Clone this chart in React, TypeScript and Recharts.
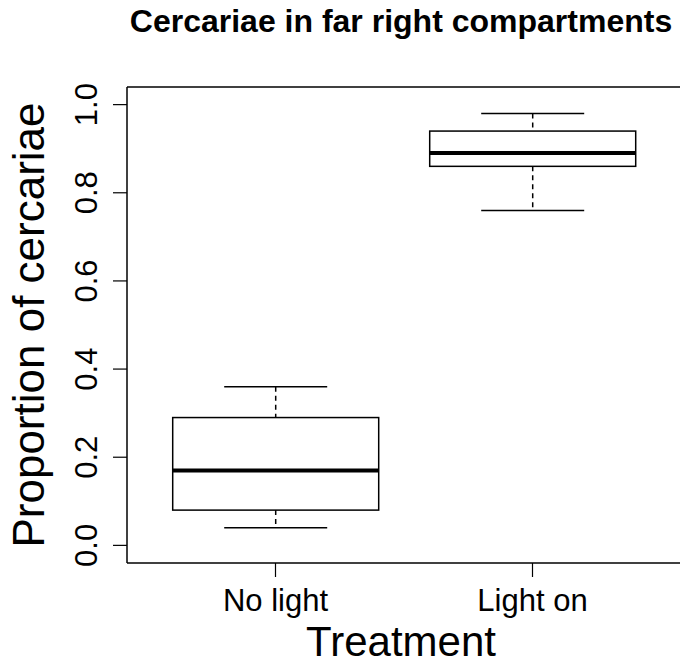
import React from 'react';
import { ComposedChart, Bar, XAxis, YAxis, CartesianGrid } from 'recharts';

const treatments = ['No light', 'Light on'];
const mins = [0.04, 0.76];
const q1s = [0.08, 0.86];
const medians = [0.17, 0.89];
const q3s = [0.29, 0.94];
const maxs = [0.36, 0.98];
const yTicks = [0, 0.2, 0.4, 0.6, 0.8, 1.0];

const FONT = '"Liberation Sans", Arial, Helvetica, sans-serif';

const data = treatments.map((t, i) => ({
  name: t,
  range: [mins[i], maxs[i]],
  min: mins[i],
  q1: q1s[i],
  median: medians[i],
  q3: q3s[i],
  max: maxs[i],
}));

// box drawn from the floating bar [min, max]; inner values mapped on the same linear scale
const BoxShape = (props: any) => {
  const { x, y, width, height, payload } = props;
  const lo = payload.min;
  const hi = payload.max;
  const px = (v: number) => y + (height * (hi - v)) / (hi - lo);
  const cx = x + width / 2;
  const cap = width / 4;
  return (
    <g>
      <line x1={cx} x2={cx} y1={px(hi)} y2={px(payload.q3)} stroke="#000" strokeWidth={1.5} strokeDasharray="5 4" />
      <line x1={cx} x2={cx} y1={px(payload.q1)} y2={px(lo)} stroke="#000" strokeWidth={1.5} strokeDasharray="5 4" />
      <line x1={cx - cap} x2={cx + cap} y1={px(hi)} y2={px(hi)} stroke="#000" strokeWidth={1.5} />
      <line x1={cx - cap} x2={cx + cap} y1={px(lo)} y2={px(lo)} stroke="#000" strokeWidth={1.5} />
      <rect x={x} y={px(payload.q3)} width={width} height={px(payload.q1) - px(payload.q3)} fill="#fff" stroke="#000" strokeWidth={1.5} />
      <line x1={x} x2={x + width} y1={px(payload.median)} y2={px(payload.median)} stroke="#000" strokeWidth={4} />
    </g>
  );
};

const YTick = ({ x, y, payload }: any) => (
  <text x={x} y={y} transform={`rotate(-90, ${x}, ${y})`} textAnchor="middle" fontSize={31} fontFamily={FONT} fill="#000">
    {Number(payload.value).toFixed(1)}
  </text>
);

const XTick = ({ x, y, payload }: any) => (
  <text x={x} y={y + 32} textAnchor="middle" fontSize={31} fontFamily={FONT} fill="#000">
    {payload.value}
  </text>
);

export default function App() {
  return (
    <div style={{ position: 'absolute', left: 0, top: 0, background: '#fff' }}>
      <ComposedChart
        width={680}
        height={665}
        data={data}
        margin={{ top: 87, right: -1, bottom: 0, left: 0 }}
        barCategoryGap="10%"
      >
        <text x={401} y={32} textAnchor="middle" fontSize={32} fontWeight="bold" fontFamily={FONT} fill="#000">
          Cercariae in far right compartments
        </text>
        {/* plot frame: grid lines only at the edges of the plot area */}
        <CartesianGrid
          stroke="#000"
          strokeWidth={1.5}
          strokeDasharray=""
          horizontalCoordinatesGenerator={({ offset }: any) => [offset.top, offset.top + offset.height]}
          verticalCoordinatesGenerator={({ offset }: any) => [offset.left, offset.left + offset.width]}
        />
        <XAxis
          dataKey="name"
          type="category"
          height={102}
          padding={{ left: 20, right: 20 }}
          axisLine={false}
          tickSize={14}
          tickMargin={2}
          tickLine={{ stroke: '#000', strokeWidth: 1.2 }}
          tick={<XTick />}
          interval={0}
          label={({ viewBox }: any) => (
            <text x={viewBox.x + viewBox.width / 2 - 3} y={viewBox.y + 93} textAnchor="middle" fontSize={42} fontFamily={FONT} fill="#000">
              Treatment
            </text>
          )}
        />
        <YAxis
          type="number"
          domain={[-0.04, 1.04]}
          ticks={yTicks}
          allowDataOverflow
          width={127}
          axisLine={false}
          tickSize={14}
          tickMargin={16}
          tickLine={{ stroke: '#000', strokeWidth: 1.2 }}
          tick={<YTick />}
          label={({ viewBox }: any) => {
            const cy = viewBox.y + viewBox.height / 2;
            return (
              <text x={44} y={cy} transform={`rotate(-90, 44, ${cy})`} textAnchor="middle" fontSize={44} fontFamily={FONT} fill="#000">
                Proportion of cercariae
              </text>
            );
          }}
        />
        <Bar dataKey="range" shape={<BoxShape />} isAnimationActive={false} />
      </ComposedChart>
    </div>
  );
}
